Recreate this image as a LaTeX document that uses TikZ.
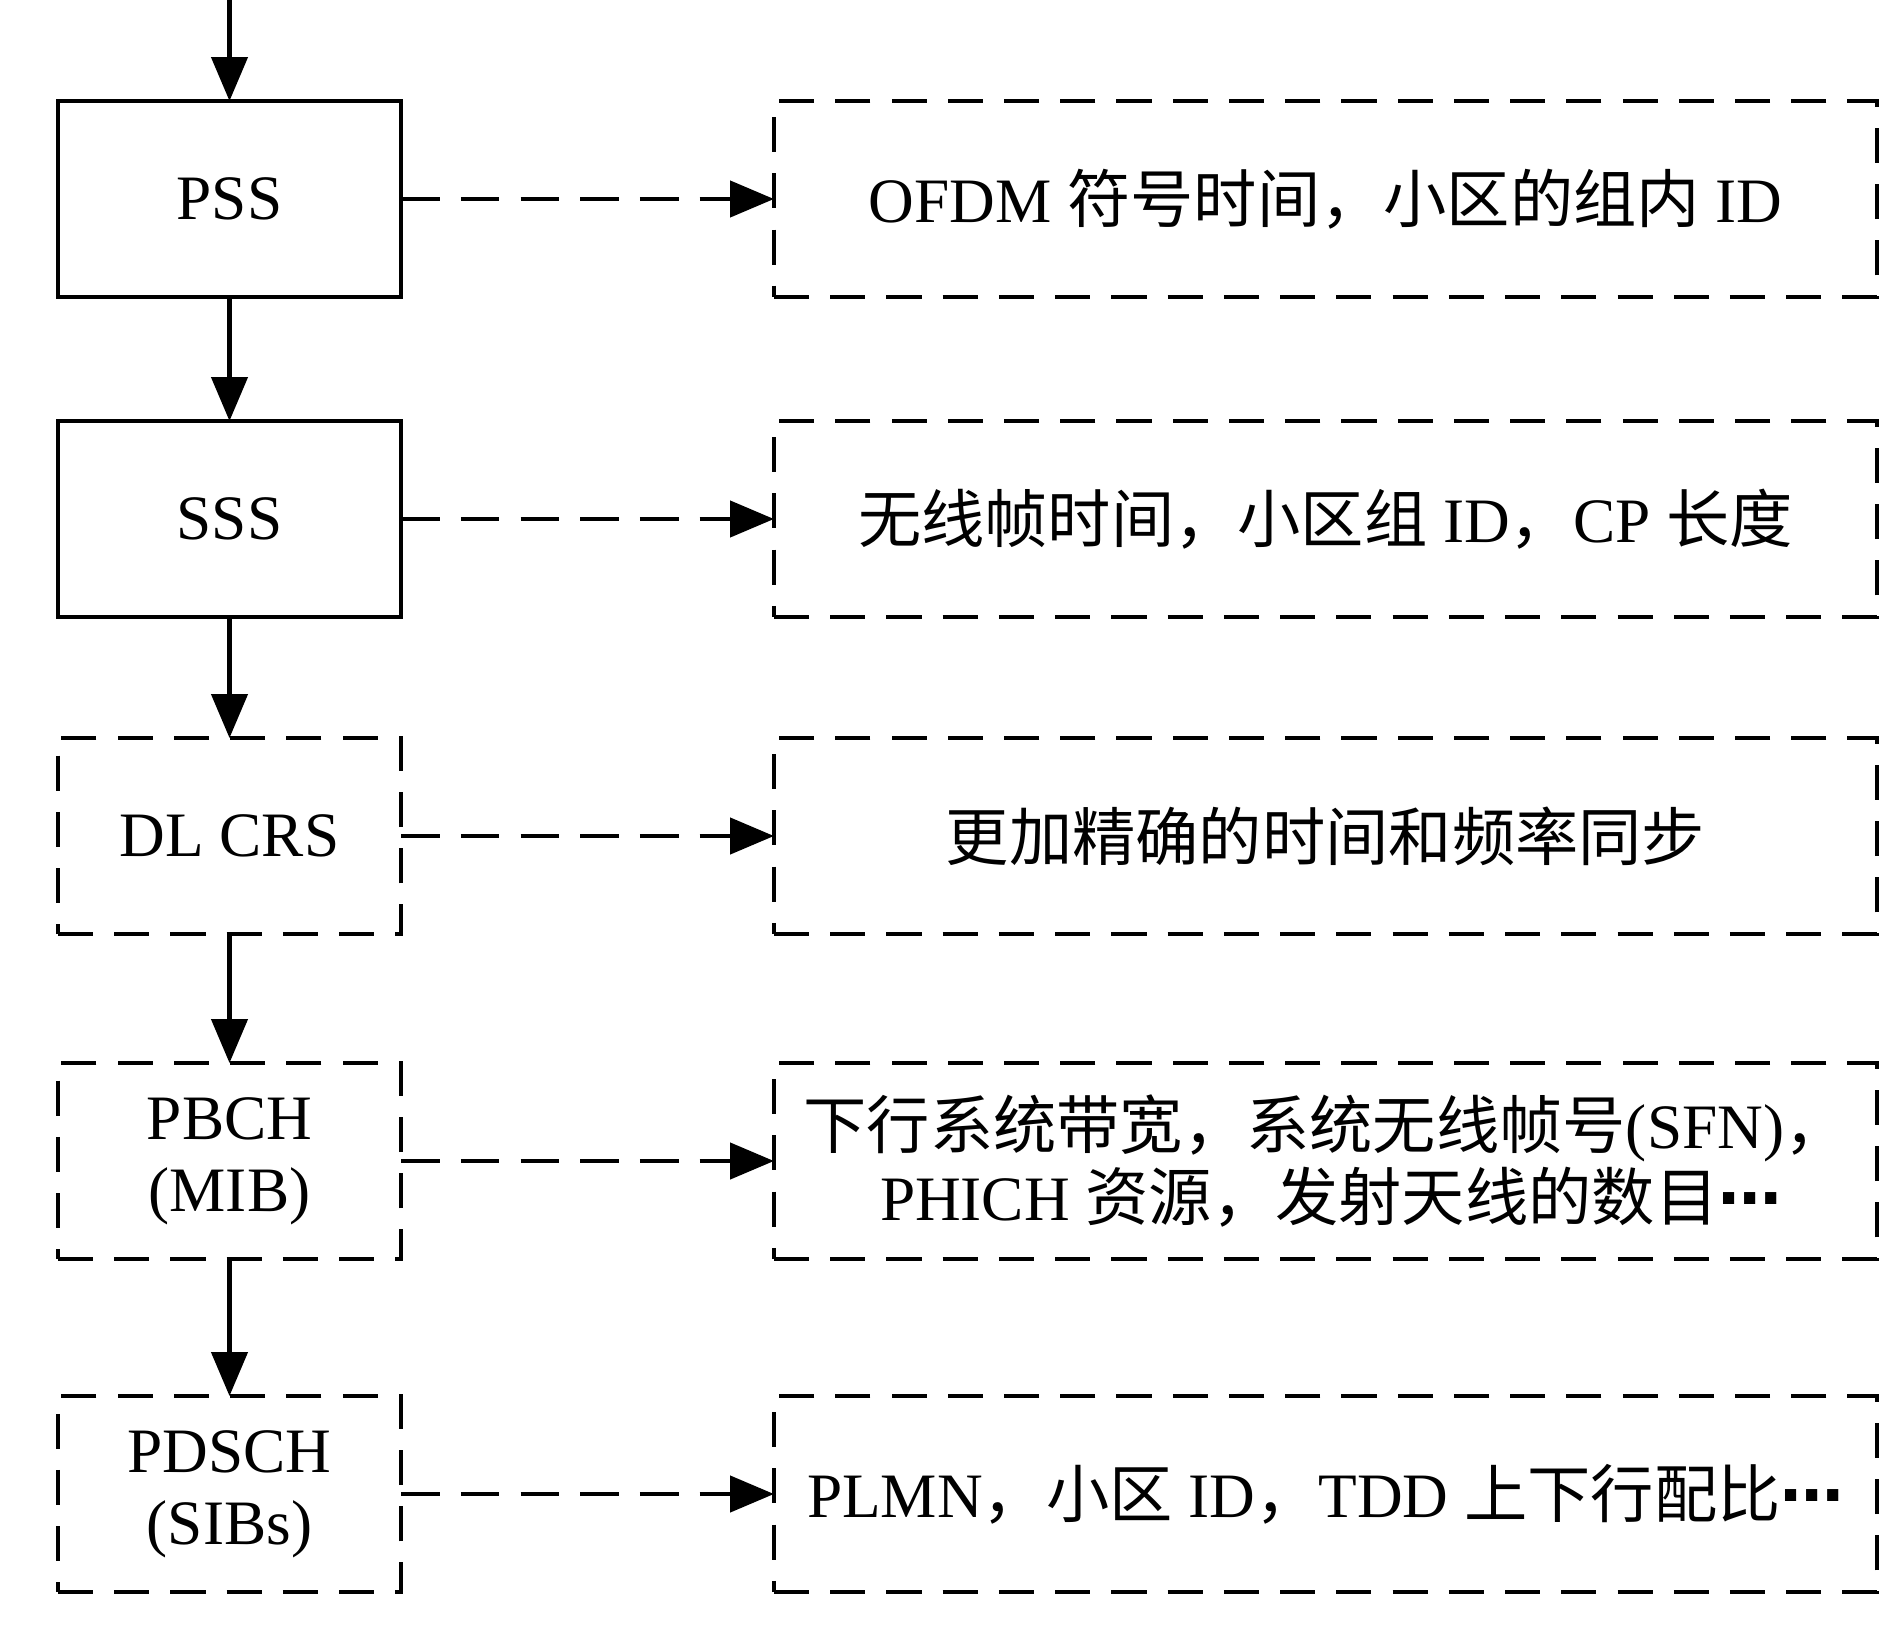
\documentclass[tikz,border=0pt]{standalone}
\usepackage{fontspec}
\setmainfont{Liberation Serif}
\newfontfamily\cjk{Noto Sans CJK SC}
\newfontfamily\symfont{DejaVu Sans}
\usetikzlibrary{positioning,arrows.meta}
\newcommand{\zh}[1]{{\cjk #1}}
\newcommand{\dotsmid}{{\symfont\bfseries ⋯}}
\tikzset{
  chan/.style={draw,line width=1.3pt,minimum width=3.43cm,minimum height=1.96cm,
    align=center,inner sep=0pt,outer sep=0pt,font=\fontsize{18}{20.5}\selectfont},
  chandash/.style={chan,dash pattern=on 10pt off 6pt},
  info/.style={chandash,minimum width=11.03cm},
  flow/.style={line width=1.3pt,-{Triangle[length=0.44cm,width=0.36cm]}},
  flowdash/.style={flow,dash pattern=on 11pt off 6pt},
}
\begin{document}
\begin{tikzpicture}
    \useasboundingbox (0,0) rectangle (18.87,-16.51);
    \node (pss) [chan] at (2.295,-1.99) {PSS};
    \node (sss) [chan, below = 1.24cm of pss] {SSS};
    \node (crs) [chandash, below = 1.21cm of sss] {DL CRS};
    \node (pbch) [chandash, below = 1.29cm of crs] {PBCH\\(MIB)};
    \node (pdsch) [chandash, below = 1.37cm of pbch] {PDSCH\\(SIBs)};
    \node (ipss) [info, right = 3.73cm of pss] {OFDM \zh{符号时间，小区的组内} ID};
    \node (isss) [info, right = 3.73cm of sss] {\zh{无线帧时间，小区组} ID\zh{，}CP \zh{长度}};
    \node (icrs) [info, right = 3.73cm of crs] {\zh{更加精确的时间和频率同步}};
    \node (ipbch) [info, right = 3.73cm of pbch] {\zh{下行系统带宽，系统无线帧号}(SFN)\zh{，}\\
        \,PHICH \zh{资源，发射天线的数目}\dotsmid};
    \node (ipdsch) [info, right = 3.73cm of pdsch] {PLMN\zh{，小区} ID\zh{，}TDD \zh{上下行配比}\dotsmid};
    \coordinate (start) at (pss.north |- 0,0);
    \draw[flow] (start) -- (pss);
    \draw[flow] (pss) -- (sss);
    \draw[flow] (sss) -- (crs);
    \draw[flow] (crs) -- (pbch);
    \draw[flow] (pbch) -- (pdsch);
    \draw[flowdash] (pss) -- (ipss);
    \draw[flowdash] (sss) -- (isss);
    \draw[flowdash] (crs) -- (icrs);
    \draw[flowdash] (pbch) -- (ipbch);
    \draw[flowdash] (pdsch) -- (ipdsch);
\end{tikzpicture}
\end{document}
